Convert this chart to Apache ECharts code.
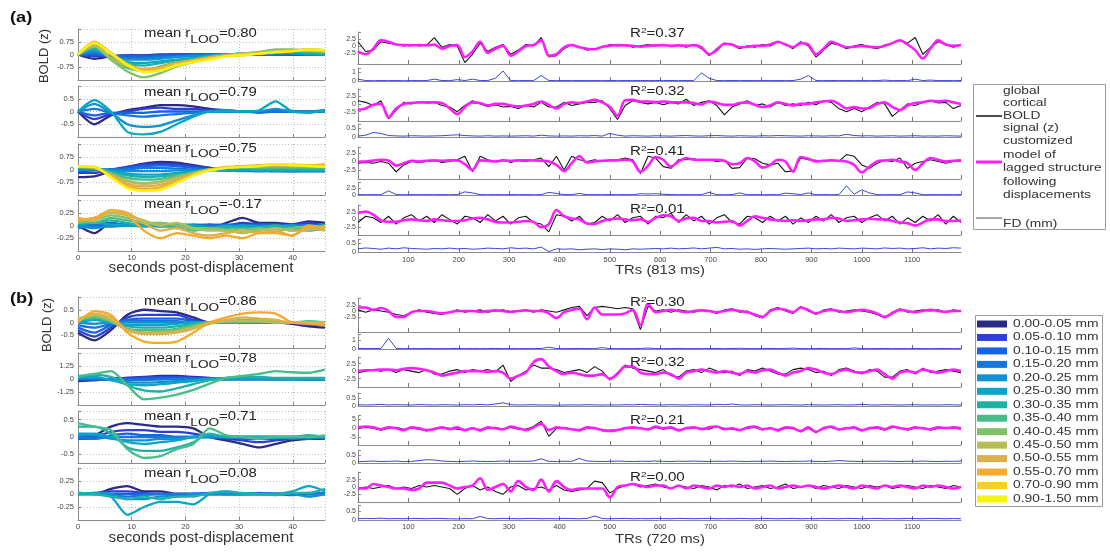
<!DOCTYPE html>
<html><head><meta charset="utf-8">
<script src="https://cdn.jsdelivr.net/npm/echarts@6/dist/echarts.min.js"></script>
<style>html,body{margin:0;padding:0;background:#fff}#c{width:1110px;height:556px}</style>
</head><body><div id="c"></div><script>
// ================= DATA =================
const BINS = ['0.00-0.05 mm','0.05-0.10 mm','0.10-0.15 mm','0.15-0.20 mm','0.20-0.25 mm','0.25-0.30 mm','0.30-0.35 mm','0.35-0.40 mm','0.40-0.45 mm','0.45-0.50 mm','0.50-0.55 mm','0.55-0.70 mm','0.70-0.90 mm','0.90-1.50 mm'];
const BIN_COLORS = ['#2c2a87','#2f3fcf','#1862e6','#1677d9','#1190d4','#07a6c6','#1fb1a8','#47bd8a','#80c06a','#b5bd56','#dcb04a','#f5a92e','#f8cd2a','#f4f40e'];
const LEFT_T_MAX = 46;
const TR_MAX = 1197;
const rLooA = ['0.80','0.79','0.75','-0.17'];
const rLooB = ['0.86','0.78','0.71','0.08'];
const r2A = ['0.37','0.32','0.41','0.01'];
const r2B = ['0.30','0.32','0.21','0.00'];

// left panels: one row per displacement bin (colour index = row index), seconds 0..46
const leftA1 = [
[0,-0.25,-0.1,-0.05,-0.05,0,0,0,0,0,0,0,0,0,0,0],
[0,-0.1,-0.1,-0.05,-0.05,-0.05,0,0,0,0,0,0.02,0.02,0,0,0],
[0,0,-0.1,-0.1,-0.1,-0.05,-0.05,0,0,0,0.05,0.05,0.05,0.05,0,0],
[0,0.1,-0.1,-0.2,-0.2,-0.15,-0.1,-0.05,0,0,0.05,0.05,0.05,0.05,0.05,0],
[0,0.2,-0.15,-0.3,-0.3,-0.25,-0.15,-0.1,-0.05,0,0.05,0.05,0.1,0.05,0,0],
[0,0.3,-0.2,-0.45,-0.5,-0.4,-0.3,-0.2,-0.1,0,0,0.05,0.1,0.1,0.05,0],
[0,0.35,-0.2,-0.55,-0.65,-0.5,-0.35,-0.25,-0.1,0,0.05,0.1,0.1,0.15,0.1,0.05],
[0,0.45,-0.3,-0.8,-0.95,-0.7,-0.45,-0.3,-0.15,-0.05,0,0.1,0.2,0.25,0.2,0.1],
[0,0.5,-0.3,-1.0,-1.35,-1.1,-0.7,-0.45,-0.25,-0.05,0.05,0.15,0.3,0.3,0.2,0.2],
[0,0.5,-0.2,-0.7,-0.9,-0.8,-0.55,-0.35,-0.2,-0.05,0.05,0.1,0.2,0.25,0.3,0.2],
[0,0.65,0,-0.6,-0.85,-0.75,-0.5,-0.35,-0.15,-0.05,0,0.05,0.15,0.2,0.3,0.25],
[0,0.75,0.1,-0.55,-0.9,-0.85,-0.55,-0.35,-0.2,-0.1,-0.05,0.05,0.1,0.2,0.3,0.25],
[0,0.7,0.1,-0.65,-1.0,-0.9,-0.6,-0.4,-0.25,-0.1,0,0.05,0.15,0.2,0.25,0.2],
[0,0.7,0.05,-0.6,-1.05,-0.95,-0.65,-0.45,-0.3,-0.1,-0.05,0.05,0.15,0.2,0.3,0.25]];
const leftA2 = [
[0,-0.5,-0.15,0.05,0.15,0.25,0.25,0.2,0.1,0.05,0,0,0,0.02,0,0],
[0,-0.3,-0.1,0,0.1,0.15,0.1,0.1,0.05,0,0,0,0,0,0,0],
[0,-0.15,-0.05,-0.05,-0.05,0,0,0,0,0,0,-0.05,0,0,0,0],
[0,0.1,-0.05,-0.15,-0.2,-0.15,-0.1,-0.05,0,0,0,0,0,0,0,0.05],
[0,0.3,-0.05,-0.5,-0.6,-0.55,-0.35,-0.15,0,0.05,0,0,0.1,0,0,0],
[0,0.45,0,-0.8,-0.9,-0.8,-0.5,-0.2,0,0,0,0.05,0.4,0,-0.05,0.05]];
const leftA3 = [
[-0.45,-0.4,-0.1,0.15,0.35,0.45,0.4,0.25,0.1,0,-0.05,-0.1,-0.05,-0.1,-0.1,-0.1],
[-0.2,-0.2,0,0.15,0.3,0.35,0.3,0.2,0.1,0,-0.05,-0.05,-0.05,-0.05,-0.05,-0.05],
[-0.1,-0.05,0,0.1,0.2,0.25,0.2,0.1,0,-0.05,-0.05,-0.05,-0.1,-0.1,-0.1,-0.1],
[0,0,0,0,0.1,0.1,0.05,0,0,-0.05,-0.05,-0.05,-0.1,-0.1,-0.05,-0.05],
[0,0,-0.05,-0.1,-0.1,-0.1,-0.05,-0.05,-0.05,-0.05,-0.1,-0.1,-0.1,-0.1,-0.1,-0.1],
[0.1,0.05,-0.1,-0.25,-0.3,-0.3,-0.2,-0.1,0,0,0,0,0,-0.05,-0.05,-0.05],
[0.1,0.05,-0.15,-0.35,-0.45,-0.4,-0.3,-0.15,0,0.05,0.05,0,0,0,0,0],
[0.15,0.1,-0.2,-0.5,-0.6,-0.55,-0.35,-0.2,0,0.1,0.1,0.1,0.1,0.1,0.1,0.1],
[0.15,0.1,-0.25,-0.65,-0.8,-0.7,-0.45,-0.2,0,0.1,0.15,0.15,0.2,0.2,0.15,0.15],
[0.15,0.1,-0.3,-0.7,-0.85,-0.75,-0.5,-0.25,0,0.1,0.15,0.2,0.2,0.2,0.2,0.2],
[0.15,0.1,-0.35,-0.85,-1.0,-0.9,-0.6,-0.25,0,0.1,0.2,0.2,0.25,0.2,0.2,0.25],
[0.15,0.15,-0.4,-0.95,-1.15,-1.05,-0.7,-0.3,0,0.15,0.2,0.25,0.3,0.25,0.25,0.3],
[0.15,0.15,-0.45,-1.05,-1.25,-1.15,-0.75,-0.35,-0.05,0.1,0.15,0.2,0.3,0.3,0.25,0.2],
[0.2,0.15,-0.45,-1.1,-1.25,-1.2,-0.8,-0.35,-0.05,0.1,0.15,0.2,0.3,0.25,0.2,0.15]];
const leftA4 = [
[0,-0.15,0.05,0,0.02,0,0,-0.02,-0.05,0.05,0.15,0.05,0.05,0.02,0.08,0.05],
[0.02,0,0,0.02,0,0.02,0,0,0.02,0,0.05,0.02,0,0.02,0.05,0],
[0,0.02,0.05,0,0.02,0,-0.02,0,0,0.02,0,0.02,0.02,0,0,0.02],
[-0.05,0,-0.02,0,0.02,0,0,0.02,0,-0.02,0,0,-0.02,0,0,-0.02],
[0,-0.05,0,0.02,0,-0.02,0,0,-0.05,0,-0.02,-0.02,0,-0.05,-0.02,0],
[0,0.05,0.02,0,-0.02,0,0.02,0,-0.05,-0.05,0,-0.02,-0.02,0,-0.05,-0.02],
[0.05,0.05,0.1,0.05,0,0.05,0,-0.05,-0.05,-0.02,-0.05,-0.05,0,-0.05,-0.1,-0.05],
[0.1,0.05,0.15,0.1,0.05,0,-0.05,-0.1,-0.05,-0.1,-0.05,-0.1,-0.05,-0.1,-0.05,0],
[0.05,0.1,0.2,0.15,0.05,0.05,0,-0.05,-0.05,-0.08,-0.1,-0.05,-0.1,-0.05,-0.02,-0.05],
[0.1,0.15,0.25,0.2,0.1,0,0.05,-0.05,-0.1,-0.1,-0.15,-0.1,-0.05,-0.1,-0.1,0],
[0.15,0.1,0.3,0.25,0.05,-0.1,-0.05,-0.15,-0.2,-0.15,-0.1,-0.15,-0.1,-0.2,-0.05,-0.1],
[0.1,0.15,0.3,0.2,-0.1,-0.25,-0.15,-0.2,-0.25,-0.2,-0.25,-0.15,-0.15,-0.2,0,-0.05]];
const leftB1 = [
[-0.4,-0.7,-0.3,0.3,0.5,0.45,0.4,0.2,0,0,0,0,0,-0.05,-0.15,-0.2],
[-0.3,-0.55,-0.2,0.2,0.3,0.3,0.3,0.1,0,0,0,0,0,0,-0.1,-0.1],
[-0.2,-0.4,-0.1,0.1,0.15,0.15,0.15,0.05,0,0,0,0,0,0,-0.05,-0.1],
[-0.1,-0.2,-0.05,0.05,0.05,0.05,0.05,0,0,0,0,0,0,0,0,0],
[0,-0.05,0,0,0,0,0,0,0,0,0,0,0,0,0,0],
[0,0.1,0,-0.1,-0.1,-0.1,-0.05,0,0,0,0,0,0,0,0,0],
[0.05,0.15,0,-0.15,-0.2,-0.2,-0.15,-0.05,0,0,0,0.05,0,0,0,0],
[0.1,0.2,0.05,-0.25,-0.3,-0.3,-0.25,-0.1,0,0.05,0.05,0.05,0,0,0.05,0],
[0.1,0.25,0.05,-0.3,-0.4,-0.35,-0.3,-0.15,0,0.05,0.1,0.1,0.05,0,0,0],
[0.15,0.3,0.1,-0.3,-0.4,-0.4,-0.35,-0.2,-0.05,0.05,0.05,0.05,0,0,0,0],
[0.1,0.35,0.2,-0.3,-0.45,-0.45,-0.4,-0.25,0,0.1,0.2,0.15,0.1,0,0,-0.05],
[0,0.45,0.3,-0.4,-0.75,-0.8,-0.75,-0.4,0,0.2,0.35,0.4,0.35,0,-0.05,-0.1]];
const leftB2 = [
[-0.2,-0.1,0,0.1,0.2,0.3,0.3,0.2,0.1,0,0,0,0,0,0,0],
[-0.1,-0.1,0,0.1,0.15,0.2,0.2,0.15,0.05,0,0,0,0,0,0,0],
[0,0,0,0,0.05,0.1,0.1,0.05,0,0,0,0,0,0,-0.05,-0.05],
[0,0,-0.05,-0.1,-0.1,-0.05,0,0,0,0,0,0,0,0,0,0],
[0.1,0.1,-0.1,-0.3,-0.35,-0.3,-0.2,-0.1,0,0,0,0,0,0,0,0],
[0.15,0.2,-0.1,-0.5,-0.6,-0.5,-0.35,-0.2,0,0,0.05,0.05,0.05,0,0,0],
[0.2,0.4,0.2,-0.6,-1.1,-1.2,-0.9,-0.5,-0.1,0.1,0.2,0.2,0.1,0.1,0.1,0.1],
[0.3,0.5,0.75,-0.6,-1.95,-1.8,-1.5,-1.05,-0.45,0.1,0.3,0.5,0.75,0.65,0.6,0.9]];
const leftB3 = [
[0,0.05,0.3,0.4,0.35,0.3,0.3,0.25,0,-0.1,-0.2,-0.3,-0.2,-0.1,-0.05,-0.05],
[-0.05,0,0.15,0.2,0.2,0.15,0.15,0.1,0,-0.05,-0.1,-0.15,-0.1,-0.05,-0.05,0],
[-0.05,-0.05,0.05,0.1,0.05,0.05,0,0,0,0,-0.05,-0.05,-0.05,0,-0.05,0],
[0,-0.05,0,0,0,0,0,0,0,0,0,0,0,-0.05,0,-0.05],
[0.05,0.05,-0.05,-0.1,-0.1,-0.05,-0.05,0,0,0,0,0,0,0,0,0],
[0.1,0.1,0,-0.15,-0.2,-0.15,-0.1,0,0.05,0,0,0,0,0,0,0],
[0.3,0.3,0.1,-0.3,-0.4,-0.4,-0.3,-0.15,0.1,0,0,0,0,0,0.05,0],
[0.4,0.3,0.2,-0.35,-0.6,-0.55,-0.35,-0.2,0.25,0.05,0,-0.05,0,0,0,0.05]];
const leftB4 = [
[0,0,0.1,0.15,0.05,0.05,0,0,0,0,0,0,0,0,0,0],
[0,0.02,0.05,0.05,0.02,0,0,0,0,0,0,0.02,0,0,0.02,0],
[0,0,0,0,0,0,-0.02,0,0.02,0,0,0,0,-0.02,0,0.02],
[0.02,0,-0.02,-0.05,-0.02,0,0,0,0,0,0,0,0,0,0,0],
[0,0.02,0,-0.1,-0.1,-0.05,-0.05,0,0,0,0,0,0,0,-0.05,0],
[0,0,-0.05,-0.4,-0.25,-0.15,-0.15,-0.2,0,0.05,0,0,0,0.05,0.15,0.05],
[0.02,0,-0.05,-0.1,-0.05,-0.1,-0.05,-0.05,0.02,0.05,0.02,0,-0.02,0.02,0.02,0.1]];
const leftRange = [1.5,1,1.5,0.5, 1,2.5,0.75,0.5];
const leftTicks = [[-0.75,0,0.75],[-0.5,0,0.5],[-0.75,0,0.75],[-0.25,0,0.25],[-0.5,0,0.5],[-1.25,0,1.25],[-0.5,0,0.5],[-0.25,0,0.25]];

// right panels: sampled across TRs 0..1197
const boldA1 = [1.5,-2,-1.5,1.5,1,0.5,0,0.5,0,0.3,3,-0.5,0.5,0,-6,-3,1,-2,-0.5,0.5,-3,-1.5,0.5,0,3,-4,-3.5,-1,0.5,-0.5,-1.5,-1,-0.5,0.5,0,0.5,-0.5,0,0.5,0,0.5,-0.3,0.3,-0.5,0.5,-1,-3.5,-1,1,0.3,-1,0,-0.5,0.5,0,1.5,0.5,-1,1.5,0,-4,-1.5,1,0.3,-1,0,0.5,-0.5,-1,0.3,1,2,1,3,-3,-0.5,1.5,0.5,-0.5,0.3];
const modelA1 = [-2,-3,-1,2,1.5,0.5,0.3,0.2,0.3,0.2,0.5,-1,0,0.3,-4,-2,1.5,-2.5,-1,0,-3.5,-2,0,0.3,2,-3.5,-3,-0.5,0.3,-0.5,-1,-1.2,-0.3,0,0.3,0.2,0,-0.3,0,0.2,0.3,0,0.2,0,0.3,-0.5,-3,-1.5,0.8,0.5,-0.5,-0.3,0,0,0.5,1.5,0.5,-0.5,1,0.5,-3,-1,1.5,0.5,-0.5,-0.3,0,-0.3,-0.5,0,1,2,0.5,-1.5,-4.5,-1,2,0.5,0,0.3];
const fdA1 = [0.2,0.05,0.03,0.05,0.04,0.05,0.03,0.05,0.04,0.05,0.2,0.05,0.04,0.15,0.05,0.2,0.05,0.05,0.3,1.1,0.05,0.04,0.05,0.04,0.6,0.05,0.04,0.05,0.04,0.05,0.04,0.05,0.04,0.05,0.04,0.05,0.04,0.05,0.04,0.05,0.04,0.05,0.04,0.05,0.04,0.9,0.3,0.05,0.04,0.05,0.04,0.05,0.04,0.05,0.04,0.05,0.04,0.05,0.2,0.6,0.05,0.04,0.05,0.04,0.05,0.04,0.05,0.04,0.05,0.1,0.04,0.05,0.04,0.2,0.05,0.1,0.04,0.05,0.04,0.05];
const boldA2 = [1,0.5,-0.5,1,-4.8,-2,0.5,0,0.8,0.3,0.5,-0.5,-1,-2.5,-0.5,1,0,-0.8,-0.3,-1,-0.8,-1.5,-0.5,-1,0.5,-1,-1,0.5,-0.5,0,0.5,0.5,1,-1.5,-5,-0.5,1,0.5,0,0.5,-0.3,0.5,0,1.5,-0.5,0.5,1,-0.5,-3.5,-1,0,1,-0.5,0,-1,0.5,-0.5,0,-0.5,0.5,-0.3,1,0.5,-1.5,-2.5,-1.5,-2.5,-1,0.5,0,-4,-2,0,-0.5,0.5,1,0.3,0.5,-1.5,-0.5];
const modelA2 = [-1.9,-1.5,-0.3,0,-4.3,-1.5,0,0.3,0.5,0.5,0.5,0.3,-1.5,-3.3,-1,0.5,0.3,-0.5,0,0,-0.5,-0.8,-0.5,0,0.8,-0.3,-1.5,0,0.5,0.3,0.8,1.3,0.5,-1,-3.8,1.2,1.3,0.8,0.8,0.5,0.8,0.5,0.5,0.5,0.3,-0.2,0.8,0.3,-0.3,-0.3,0.3,0.5,-0.3,-1,-0.5,0.5,0,-0.5,0,0,0.5,0.8,1,0,-1.5,-1,-1.5,-1.3,0,0.5,-1,-2,-0.5,0.3,0.5,1,0.8,1,0.5,0];
const fdA2 = [0.05,0.1,0.25,0.2,0.08,0.06,0.05,0.07,0.06,0.05,0.06,0.07,0.1,0.12,0.08,0.06,0.05,0.07,0.05,0.06,0.05,0.06,0.07,0.05,0.1,0.06,0.05,0.06,0.05,0.07,0.06,0.08,0.05,0.2,0.1,0.05,0.07,0.06,0.05,0.07,0.06,0.05,0.07,0.08,0.06,0.05,0.07,0.08,0.06,0.05,0.07,0.06,0.05,0.07,0.06,0.08,0.07,0.06,0.05,0.07,0.06,0.05,0.07,0.06,0.15,0.08,0.06,0.07,0.05,0.06,0.07,0.05,0.06,0.07,0.05,0.06,0.05,0.07,0.06,0.05];
const boldA3 = [-0.5,-0.3,-0.5,0,-0.5,-3,-1,0,-0.3,0,0.3,-0.3,0,0.5,1.5,-3,1.5,0.5,0,0.5,-0.3,0.3,0,0.5,1,-1.5,1.5,-2.5,1.5,0.5,0,0.5,0,0.3,0.5,1,0.5,-3.5,1.5,1,-1.5,-2,0.5,0.5,0.8,0.3,0.5,0,0.3,-2,-1.8,1,0.8,-0.5,-1,-0.5,-3,-2.8,1,0.5,0.3,0,0.5,0,2,1.5,-1,-2,-0.5,0.3,0,1,-2,-0.5,0,0.5,0,-0.5,0,0];
const modelA3 = [0,0,0.3,0.5,0.3,-1.2,-0.5,0.2,0,0.2,0.3,0.2,0.3,0.3,-0.8,-2.5,0.3,0.2,0,0.3,0.2,0.3,0.3,0.3,0.2,0,-1,-2.8,-0.5,1.5,-0.3,0,0.2,0.3,0.3,0.5,0,-3,-1.3,1.3,0.5,-1.5,0,1,0.5,0.5,0.5,0.5,0.2,-0.8,-0.5,1,0,-1.8,-1,0.5,0,-3,1.3,0.8,0,0.2,0.3,0.2,0,-1,-3.2,-1.5,0,0.3,0.5,0,-0.5,-2.5,-0.5,1,0.5,0,0.2,0.3];
const fdA3 = [0.15,0.1,0.15,0.1,1.6,0.15,0.1,0.15,0.1,0.15,0.1,0.15,0.1,0.15,1.2,0.8,0.15,0.1,0.15,0.1,0.15,0.1,0.15,0.1,0.15,1,0.6,0.15,0.15,0.6,0.1,0.15,0.1,0.15,0.1,0.15,0.1,0.5,0.4,0.5,0.3,0.15,0.1,0.15,0.1,0.15,1,0.15,0.1,0.15,0.8,0.1,0.15,0.1,0.15,0.1,0.7,0.5,0.15,0.8,0.1,0.15,0.1,0.15,3.5,0.3,2,0.8,0.15,0.1,0.15,0.1,1.2,0.8,0.1,0.15,0.1,0.15,0.1,0.15];
const boldA4 = [-1,1,0.5,-1,1,-1.5,0.5,1.5,-0.5,1,-1,1.5,0,-1.5,1,0.5,-1,1.5,-0.5,1,-1.5,0.5,1,-1,-1.5,-4,1.5,1,-0.5,1,-1.5,-1,1,-0.5,1.5,-1,0.5,1,-1.5,1,0.5,2,-1,1.5,-0.5,1,-1.5,0.5,1.5,-1,-1.5,1,0.5,-1,1,-0.5,1,-1.5,0.5,-1,1,-0.5,1.5,-1,0.5,1,-1,0.5,1.5,-0.5,1,-1.5,0.5,-1,1,-0.5,1.5,-1.5,1,-1];
const modelA4 = [2,2.5,1.5,-0.3,-0.8,-0.8,-0.3,0,-0.3,-0.5,0,-0.3,-0.5,-0.5,-0.3,0.3,0.5,0,-0.8,-1,-1,-0.8,-0.5,-0.8,-2.5,-1.5,3,1,0.3,0,-1.3,-1.5,-0.5,0,0.3,0,-0.3,0,-0.8,0.5,1.3,1,-0.5,0.3,0.5,-0.5,-0.5,-1,-0.8,-0.5,-2,-0.5,1,0.5,0,-0.3,-0.5,-0.3,-0.5,-0.3,0,0,0.5,0.3,-0.5,-0.3,0,0.2,0,0,-0.5,-1,-1.2,-2,-1,0,0,-0.5,-0.5,-0.3];
const fdA4 = [0.2,0.25,0.22,0.18,0.24,0.2,0.26,0.22,0.2,0.18,0.22,0.2,0.24,0.2,0.22,0.18,0.2,0.24,0.22,0.2,0.26,0.22,0.24,0.2,0.3,0.05,0.2,0.18,0.2,0.15,0.18,0.2,0.16,0.2,0.18,0.15,0.2,0.18,0.2,0.22,0.2,0.24,0.2,0.22,0.25,0.2,0.24,0.28,0.2,0.22,0.18,0.2,0.17,0.2,0.22,0.2,0.18,0.2,0.22,0.24,0.2,0.22,0.2,0.24,0.22,0.2,0.24,0.22,0.2,0.25,0.22,0.24,0.2,0.22,0.26,0.2,0.24,0.22,0.26,0.24];
const boldB1 = [0.5,-0.5,0.5,0,-0.5,-1.5,-2,-0.5,0.5,-0.5,-1,-1.5,-0.5,0.5,-0.5,0,0.5,-0.5,0,0.5,-0.3,0,0.5,-0.5,0.5,0,-0.5,0.5,1.5,2,-2,1.5,2,1.5,1,1.5,1,-8,2,0,0.5,-0.5,0.5,0,-0.5,0.5,0,-1,0.5,1,-0.5,0,-2,-3,0.5,1.5,0,-1,2,0,-1.5,0.5,1,-0.5,0,0.5,0,-0.5,-1.5,-3,-0.5,1,-0.5,0,0.5,0,0.5,-0.5,0.5,0];
const modelB1 = [1.5,1.5,0.5,1.3,0,-2.5,-2.5,-0.5,0,0,-0.5,-1,-0.5,0,0,0,-0.3,0,0.3,0,-0.3,0,0.3,0,0,-1,-3,-0.5,0.5,1,-3.5,1.5,-1.5,-1.5,-1.5,-1,0.5,-6,3,-0.5,0,0.5,0,-0.5,0,0.3,0,-0.5,0,0.5,0,-0.5,-1.5,-2.5,0,1,0.5,-0.5,1.5,0.5,-1,0,0.5,0,-0.5,0,0.5,0,-1,-2.5,-1,0.5,0,-0.5,0,0.5,0,-0.3,0,0];
const fdB1 = [0.08,0.05,0.06,0.05,1.2,0.06,0.04,0.05,0.04,0.06,0.05,0.04,0.05,0.06,0.04,0.05,0.04,0.05,0.06,0.04,0.05,0.04,0.05,0.04,0.06,0.2,0.05,0.04,0.05,0.06,0.05,0.04,0.15,0.05,0.04,0.05,0.04,0.06,0.1,0.05,0.04,0.05,0.06,0.04,0.05,0.04,0.05,0.06,0.04,0.05,0.08,0.05,0.04,0.05,0.06,0.04,0.05,0.1,0.05,0.04,0.05,0.06,0.04,0.05,0.04,0.12,0.05,0.04,0.05,0.06,0.04,0.05,0.04,0.06,0.05,0.04,0.05,0.06,0.04,0.05];
const boldB2 = [-0.5,0,0.5,0,0.5,-0.5,0.5,0,-0.5,0.5,-1,-1,0,0.5,-0.5,0.5,0,0.5,-0.3,2,-3.5,-1.5,0,2,1,1,0.5,-0.5,0,0.5,-0.5,1.5,0,-3,-0.5,2,1,0.5,0,-0.5,0.5,-1.5,-2,0,0.5,-0.5,1,0,-0.5,0,-1.5,0.5,0,1,0,-1,-1,0.5,1,0.5,-0.5,0,-1.5,0.5,1,0,-1,0.5,0,-2,-2,0,0.5,-1,1,-0.5,0,0.5,0,-0.5];
const modelB2 = [0,0.3,0.3,0.5,0.5,0.3,0.8,1,0.8,0.3,-0.5,-1.5,-1,-0.5,0,0,0,-0.3,0,-0.5,-2.5,-1.5,-0.5,3,4,1.5,0,-1,-0.5,-1,-1.5,-1.5,-1,-2.5,-1,1.5,1.5,-0.5,-1,-1,-0.5,-1,-2.5,-0.5,0,0.5,0,-0.5,0,-0.5,-1,0,-0.5,0.3,0.5,-0.5,-1.5,-0.5,0,1,0.5,-0.5,-1,0,0.5,-0.3,-0.5,0,0.5,-1,-2.5,-0.5,0,-0.5,0.5,0,-0.5,0,0.5,0];
const fdB2 = [0.08,0.06,0.07,0.1,0.06,0.08,0.07,0.06,0.09,0.07,0.06,0.08,0.07,0.06,0.08,0.07,0.09,0.07,0.12,0.2,0.08,0.06,0.07,0.08,0.06,0.07,0.05,0.06,0.07,0.06,0.08,0.07,0.06,0.07,0.06,0.08,0.07,0.1,0.08,0.07,0.06,0.08,0.07,0.06,0.08,0.07,0.06,0.1,0.08,0.12,0.07,0.06,0.08,0.07,0.06,0.07,0.08,0.07,0.06,0.08,0.07,0.06,0.07,0.08,0.06,0.07,0.1,0.07,0.06,0.08,0.07,0.06,0.07,0.08,0.06,0.07,0.06,0.08,0.07,0.06];
const boldB3 = [0,0.5,0,-1,0,0.5,-0.5,0,-0.5,-1.5,0,0.5,0,-0.5,-1,0.5,-1.5,0,0.5,-0.5,0.5,-0.5,-0.5,1,4,-4.5,0,0.5,-0.5,-1.5,0,0.5,-1.5,-1,-1,0.5,0,0.5,-1,0.5,-0.5,0,-1.5,0.5,0,0,-0.5,1,0,-0.5,-1,0,0.5,-1,0.5,-1.5,0,0.5,-2,0,-2.5,0.5,0.5,-1,0.5,0,-1.5,0.5,0,-1,0.5,0.5,-1,0,0.5,-1,0,0.5,0,-0.5];
const modelB3 = [0.5,1,0.5,-0.5,0.5,0,-1,0.5,0,-1,-0.5,0.5,-0.5,0.5,-1,0,-1,0.5,0,-0.5,1,0,-1,0.5,2.5,-1,0.5,0,-0.5,-1,0.5,0,-1,-1.5,-1,0,0.5,0,-0.5,1,0,0.5,-1,0,0.5,-0.5,0.5,1,-0.5,0,-1,0.5,1,-0.5,0,-1,0.5,0,-1.5,0.5,-2,0,1,-0.5,0,0.5,-1,0,0.5,-0.5,1,0,-0.5,0.5,0,-0.5,0.5,0,0.5,0];
const fdB3 = [0.08,0.1,0.12,0.09,0.1,0.12,0.08,0.1,0.15,0.2,0.18,0.12,0.1,0.08,0.1,0.12,0.1,0.09,0.1,0.12,0.1,0.11,0.1,0.12,0.25,0.1,0.09,0.11,0.1,0.28,0.12,0.1,0.09,0.1,0.12,0.1,0.09,0.11,0.1,0.12,0.1,0.09,0.11,0.1,0.12,0.1,0.09,0.11,0.1,0.12,0.1,0.09,0.11,0.1,0.12,0.1,0.09,0.11,0.1,0.12,0.1,0.09,0.11,0.15,0.12,0.1,0.09,0.11,0.1,0.12,0.1,0.09,0.11,0.1,0.12,0.1,0.09,0.11,0.1,0.12];
const boldB4 = [-0.5,0,-0.5,0,0.5,-0.5,0,-0.5,0.5,0,0.5,0,-0.5,-2.5,-0.5,0.5,-1,0,-1.5,-2.5,0,0.5,-1,-0.5,0,-1,0.5,-1,-1.5,-1,-0.5,2,1.5,-2,-0.5,0.5,1,0,0.5,1,0,-0.5,0.5,0,-0.5,0.5,0,-1,0.5,0,1,-0.5,0,0.5,-0.5,0,1,-0.5,0,0.5,-0.5,0.5,0,-0.5,0.5,0,-0.5,0.5,0,0.5,-0.5,0,0.5,0,-0.5,0.5,0,-0.5,0.5,0];
const modelB4 = [-0.5,-0.5,1,0.5,0,-0.5,-0.5,-1,-0.5,1.5,1.5,1.5,0.5,-0.5,0,0.5,3,-1,0,1,-1.5,2,0,-1,2.5,-1.5,2,0,-1,-0.5,-0.5,-0.5,-0.5,-3.5,0,0.5,1,0.5,0,0.5,0.5,-0.5,0.5,-0.5,0.5,0,-0.5,0.5,0,0.5,0,0.5,-0.5,0,0.5,-0.5,0,0.5,0,0.5,0,-0.5,0,0.5,0,-0.5,0.5,0,-0.5,0.5,0,0.5,0,-0.5,0.5,0,0.5,0,-0.5,0];
const fdB4 = [0.07,0.09,0.08,0.1,0.07,0.08,0.07,0.09,0.08,0.07,0.09,0.08,0.07,0.06,0.08,0.07,0.2,0.08,0.07,0.09,0.08,0.07,0.08,0.09,0.07,0.08,0.07,0.09,0.08,0.07,0.09,0.22,0.08,0.07,0.08,0.09,0.07,0.08,0.07,0.09,0.08,0.07,0.09,0.08,0.07,0.08,0.09,0.07,0.08,0.07,0.09,0.08,0.07,0.09,0.08,0.07,0.08,0.09,0.07,0.08,0.07,0.09,0.08,0.07,0.09,0.08,0.07,0.08,0.09,0.07,0.08,0.07,0.09,0.08,0.07,0.09,0.08,0.07,0.08,0.07];
const sigRange = [[-6.5,5],[-5.5,4.8],[-5.1,4.2],[-5,4.6],[-9,5.6],[-5.3,4.7],[-9.3,7.4],[-5.1,5.1]];
const sigTicks = [[-2.5,0,2.5],[-2.5,0,2.5],[-2.5,0,2.5],[-2.5,0,2.5],[-2.5,0,2.5],[-2.5,0,2.5],[-5,0,5],[-2.5,0,2.5]];
const fdMax = [1.43,0.72,5.0,0.74,1.67,0.8,0.79,0.83];
const fdTicks = [[0,1],[0,0.5],[0,2.5],[0,0.5],[0,1],[0,0.5],[0,0.5],[0,0.5]];

// ================= LAYOUT =================
const FONT = '"Liberation Sans", Arial, Helvetica, sans-serif';
const AXC = '#8a8a8a', LBC = '#444';
const leftCharts = [leftA1,leftA2,leftA3,leftA4,leftB1,leftB2,leftB3,leftB4];
const leftBoxes = [[78,29,247,51],[78,86,247,51],[78,144,247,51],[78,200,247,51],[78,297,247,51],[78,353,247,52],[78,411,247,52],[78,468,247,52]];
const boldRows = [boldA1,boldA2,boldA3,boldA4,boldB1,boldB2,boldB3,boldB4];
const modelRows = [modelA1,modelA2,modelA3,modelA4,modelB1,modelB2,modelB3,modelB4];
const fdRows = [fdA1,fdA2,fdA3,fdA4,fdB1,fdB2,fdB3,fdB4];
const sigBoxes = [[358,32,603,32],[358,89,603,32],[358,147,603,32],[358,205,603,30],[358,298,603,34],[358,357,603,30],[358,415,603,30],[358,472,603,30]];
const fdBoxes = [[358,68,603,13],[358,124,603,13],[358,182,603,13],[358,239,603,13.5],[358,334,603,15],[358,393,603,13],[358,450,603,13],[358,505,603,15]];
const titleBase = [37,95.7,151.7,208,305,362,420,477];
const r2Base = [37,95,155,213,306,366,424,481];

const grid=[], xAxis=[], yAxis=[], series=[], graphic=[];
const fmt = v => String(v);
const labStyle = (vals, fs, margin) => ({show:true,fontSize:fs,color:LBC,margin:margin,fontFamily:FONT,customValues:vals,formatter:fmt,
  hideOverlap:false,showMinLabel:true,showMaxLabel:true});

// adds a y axis with ticks; labels split across two stacked axes so that close labels are never dropped
function addY(gi, min, max, labels, tickVals, fs, margin, splitLine){
  const even = labels.filter((_,i)=>i%2===0), odd = labels.filter((_,i)=>i%2===1);
  yAxis.push({type:'value', gridIndex:gi, position:'left', min:min, max:max,
    axisLine:{show:true,onZero:false,lineStyle:{color:AXC}},
    axisTick:{show:true,inside:true,length:3,lineStyle:{color:AXC},customValues:tickVals},
    axisLabel:labStyle(even, fs, margin),
    splitLine: splitLine ? {show:true,lineStyle:{color:'#c0c0c0',type:[1,2]}} : {show:false}});
  const main = yAxis.length-1;
  if (odd.length){
    yAxis.push({type:'value', gridIndex:gi, position:'left', offset:0, min:min, max:max,
      axisLine:{show:false}, axisTick:{show:false}, splitLine:{show:false},
      axisLabel:labStyle(odd, fs, margin)});
  }
  return main;
}

leftCharts.forEach((lines,k)=>{
  const b = leftBoxes[k];
  grid.push({left:b[0], top:b[1], width:b[2], height:b[3]});
  const gi = grid.length-1, bottom = (k===3||k===7), r = leftRange[k];
  xAxis.push({type:'value', gridIndex:gi, min:0, max:LEFT_T_MAX, interval:10,
    axisLine:{show:true,onZero:false,lineStyle:{color:AXC}},
    axisTick:{show:true,inside:true,length:3,lineStyle:{color:AXC}},
    axisLabel:{show:bottom,fontSize:7.5,color:LBC,margin:3,fontFamily:FONT,showMinLabel:true,showMaxLabel:false,hideOverlap:false,formatter:fmt},
    splitLine:{show:true,lineStyle:{color:'#c0c0c0',type:[1,2]}}});
  const yi = addY(gi, -r, r, leftTicks[k], [-r].concat(leftTicks[k],[r]), 7.5, 4, true);
  lines.forEach((vals,j)=>{
    series.push({type:'line', name:BINS[j], xAxisIndex:gi, yAxisIndex:yi,
      data: vals.map((v,i)=>[i*LEFT_T_MAX/(vals.length-1), v]),
      symbol:'none', smooth:0.25, silent:true, z:3,
      lineStyle:{width:2.3,color:BIN_COLORS[j]}, itemStyle:{color:BIN_COLORS[j]}});
  });
});

boldRows.forEach((bold,k)=>{
  const sb = sigBoxes[k], fb = fdBoxes[k], bottom = (k===3||k===7);
  grid.push({left:sb[0], top:sb[1], width:sb[2], height:sb[3]});
  let gi = grid.length-1;
  xAxis.push({type:'value', gridIndex:gi, min:0, max:TR_MAX, interval:100,
    axisLine:{show:true,onZero:false,lineStyle:{color:AXC}},
    axisTick:{show:true,inside:true,length:4,lineStyle:{color:'#777'}},
    axisLabel:{show:false}, splitLine:{show:false}});
  let yi = addY(gi, sigRange[k][0], sigRange[k][1], sigTicks[k], sigTicks[k].concat([sigRange[k][1]]), 7, 2, false);
  series.push({type:'line', name:'global cortical BOLD signal (z)', xAxisIndex:gi, yAxisIndex:yi,
    data: bold.map((v,i)=>[i*TR_MAX/(bold.length-1), v]), symbol:'none', silent:true, z:3,
    lineStyle:{width:1.1,color:'#151515'}});
  const model = modelRows[k];
  series.push({type:'line', name:'customized model of lagged structure following displacements', xAxisIndex:gi, yAxisIndex:yi,
    data: model.map((v,i)=>[i*TR_MAX/(model.length-1), v]), symbol:'none', smooth:0.35, silent:true, z:4,
    lineStyle:{width:2.6,color:'#ff1dff'}});
  grid.push({left:fb[0], top:fb[1], width:fb[2], height:fb[3]});
  gi = grid.length-1;
  xAxis.push({type:'value', gridIndex:gi, min:0, max:TR_MAX, interval:100,
    axisLine:{show:true,onZero:false,lineStyle:{color:AXC}},
    axisTick:{show:true,inside:true,length:4,lineStyle:{color:'#777'}},
    axisLabel:{show:bottom,fontSize:7.5,color:LBC,margin:3,fontFamily:FONT,showMinLabel:false,showMaxLabel:false,formatter:fmt},
    splitLine:{show:false}});
  yi = addY(gi, 0, fdMax[k], fdTicks[k], fdTicks[k].concat([fdMax[k]]), 7, 2, false);
  const fd = fdRows[k];
  series.push({type:'line', name:'FD (mm)', xAxisIndex:gi, yAxisIndex:yi,
    data: fd.map((v,i)=>[i*TR_MAX/(fd.length-1), v]), symbol:'none', silent:true, z:3,
    lineStyle:{width:0.9,color:'#2331d6'}});
});

// ---------- texts ----------
function txt(x,y,text,o){ o=o||{};
  graphic.push({type:'text', x:x, y:y, rotation:o.rot||0, scaleX:o.sx||1, silent:true, z:100,
    style:{text:text, fontSize:o.fs||12, fontFamily:FONT, fontWeight:o.fw||'normal', fill:o.c||'#222',
      align:o.al||'left', verticalAlign:o.va||'middle'}});
}
const rLoo = rLooA.concat(rLooB), r2 = r2A.concat(r2B);
for (let k=0;k<8;k++){
  graphic.push({type:'text', x:144, y:titleBase[k]+8, scaleX:1.24, silent:true, z:100,
    style:{text:'{n|mean r}{s|LOO}{n|='+rLoo[k]+'}', align:'left', verticalAlign:'bottom',
      rich:{n:{fontSize:12,fontFamily:FONT,fill:'#222',lineHeight:14,padding:[0,0,5,0],verticalAlign:'bottom'},
            s:{fontSize:11,fontFamily:FONT,fill:'#222',lineHeight:14,verticalAlign:'bottom'}}}});
  graphic.push({type:'text', x:630, y:r2Base[k]+3, scaleX:1.26, silent:true, z:100,
    style:{text:'{n|R}{p|2}{n|='+r2[k]+'}', align:'left', verticalAlign:'bottom',
      rich:{n:{fontSize:12,fontFamily:FONT,fill:'#222',lineHeight:14,verticalAlign:'bottom'},
            p:{fontSize:8,fontFamily:FONT,fill:'#222',lineHeight:10,padding:[0,0,5,0],verticalAlign:'bottom'}}}});
}
txt(10,18.5,'(a)',{fs:14,fw:'bold',sx:1.3,c:'#111'});
txt(10,299,'(b)',{fs:14,fw:'bold',sx:1.3,c:'#111'});
txt(44,56,'BOLD (z)',{fs:13,rot:Math.PI/2,al:'center',c:'#333'});
txt(47,325,'BOLD (z)',{fs:13,rot:Math.PI/2,al:'center',c:'#333'});
txt(201,268,'seconds post-displacement',{fs:14,al:'center',sx:1.09,c:'#333'});
txt(201,538,'seconds post-displacement',{fs:14,al:'center',sx:1.09,c:'#333'});
txt(660,270,'TRs (813 ms)',{fs:13.5,al:'center',sx:1.1,c:'#333'});
txt(660,539,'TRs (720 ms)',{fs:13.5,al:'center',sx:1.1,c:'#333'});

// legend (a)
graphic.push({type:'rect', shape:{x:973.5,y:84.5,width:132,height:145}, style:{fill:'#fff',stroke:'#9a9a9a',lineWidth:1}, silent:true, z:90});
const legA1 = ['global','cortical','BOLD','signal (z)'];
const legA2 = ['customized','model of','lagged structure','following','displacements'];
legA1.forEach((t,i)=>txt(1003,91+i*12.4,t,{fs:11,sx:1.25,c:'#333'}));
legA2.forEach((t,i)=>txt(1003,141+i*13.6,t,{fs:11,sx:1.25,c:'#333'}));
txt(1003,224,'FD (mm)',{fs:11,sx:1.25,c:'#333'});
graphic.push({type:'line', shape:{x1:976,y1:116,x2:1002,y2:116}, style:{stroke:'#111',lineWidth:1.5}, silent:true, z:100});
graphic.push({type:'line', shape:{x1:976,y1:162,x2:1002,y2:162}, style:{stroke:'#ff1dff',lineWidth:3}, silent:true, z:100});
graphic.push({type:'line', shape:{x1:976,y1:218,x2:1002,y2:218}, style:{stroke:'#888',lineWidth:1.5}, silent:true, z:100});

// legend (b) colour key
graphic.push({type:'rect', shape:{x:975.5,y:315.5,width:127,height:191}, style:{fill:'#fff',stroke:'#9a9a9a',lineWidth:1}, silent:true, z:90});
BINS.forEach((t,i)=>{
  const yc = 324 + i*13.46;
  graphic.push({type:'rect', shape:{x:977,y:yc-3.5,width:30,height:7}, style:{fill:BIN_COLORS[i]}, silent:true, z:100});
  txt(1013,yc,t,{fs:10.5,sx:1.32,c:'#333'});
});

const chart = echarts.init(document.getElementById('c'), null, {renderer:'canvas'});
chart.setOption({animation:false, backgroundColor:'#fff', grid, xAxis, yAxis, series, graphic});
</script></body></html>
